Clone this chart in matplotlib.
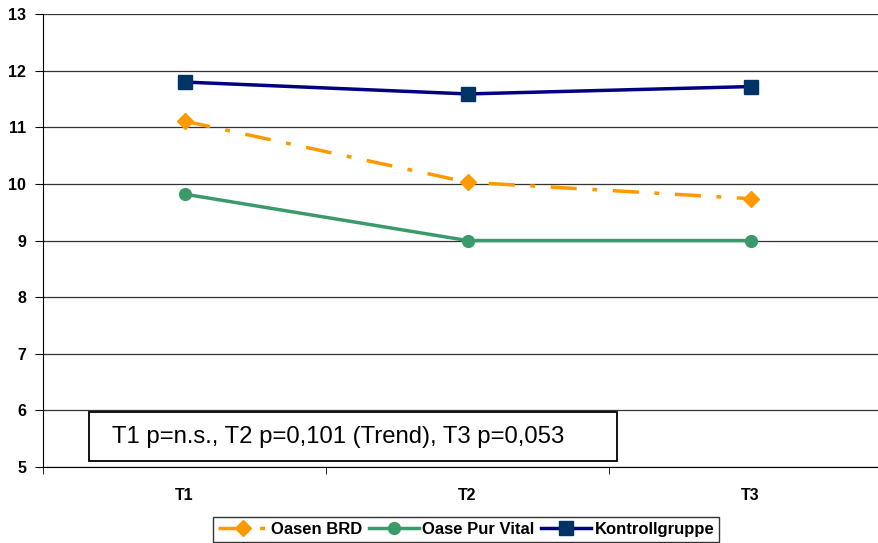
import matplotlib.pyplot as plt
from matplotlib.patches import Rectangle
import numpy as np

plt.rcParams['font.family'] = ['Liberation Sans', 'DejaVu Sans']

# Daten
zeitpunkte = ['T1', 'T2', 'T3']
oasen_brd = [11.11, 10.03, 9.74]
oase_pur_vital = [9.82, 9.0, 9.0]
kontrollgruppe = [11.80, 11.59, 11.72]
y_ticks = [5, 6, 7, 8, 9, 10, 11, 12, 13]
stat_text = 'T1 p=n.s., T2 p=0,101 (Trend), T3 p=0,053'

fig = plt.figure(figsize=(8.79, 5.43), dpi=100)
ax = fig.add_axes([0.0489, 0.140, 0.966, 0.834])

x = np.arange(len(zeitpunkte))

ax.plot(x, oasen_brd, color='#FF9900', lw=2.5, linestyle=(0, (7.5, 4.5, 1.4, 4.5)),
        marker='D', markersize=8, label='Oasen BRD')
ax.plot(x, oase_pur_vital, color='#3A9A6A', lw=2.5,
        marker='o', markersize=8.5, label='Oase Pur Vital')
ax.plot(x, kontrollgruppe, color='#000080', lw=2.5,
        marker='s', markersize=9.5, markerfacecolor='#003366',
        markeredgecolor='#003366', label='Kontrollgruppe')

ax.set_xlim(-0.5, 2.5)
ax.set_ylim(5, 13)
ax.set_yticks(y_ticks)
ax.set_xticks(x)
ax.set_xticklabels(zeitpunkte, fontweight='bold', fontsize=11.5)
ax.set_yticklabels([str(v) for v in y_ticks], fontweight='bold', fontsize=11.5)
ax.set_xticks([-0.5, 0.5, 1.5, 2.5], minor=True)
ax.tick_params(axis='x', which='major', length=0, pad=15)
ax.tick_params(axis='x', which='minor', length=5, direction='out', color='black')
ax.tick_params(axis='y', length=6, direction='out', color='black', pad=6)

ax.grid(axis='y', color='#333333', lw=0.9)
ax.set_axisbelow(True)
for s in ['top', 'right']:
    ax.spines[s].set_visible(False)
ax.spines['left'].set_color('black')
ax.spines['bottom'].set_color('black')

# Kasten mit Signifikanzangaben
ax.add_patch(Rectangle((0.0542, 0.0132), 0.622, 0.108, transform=ax.transAxes,
                       facecolor='white', edgecolor='black', lw=1.3, zorder=5))
ax.text(0.081, 0.067, stat_text, transform=ax.transAxes, fontsize=17.2,
        va='center', ha='left', zorder=6)

leg = fig.legend(loc='upper center', bbox_to_anchor=(0.53, 0.048), ncol=3,
                 frameon=True, fancybox=False, edgecolor='black',
                 prop={'weight': 'bold', 'size': 12},
                 handlelength=3, handletextpad=0.2, columnspacing=0.4,
                 borderpad=0.3, borderaxespad=0)
leg.get_frame().set_linewidth(1.0)

fig.savefig('out.png', dpi=100)
